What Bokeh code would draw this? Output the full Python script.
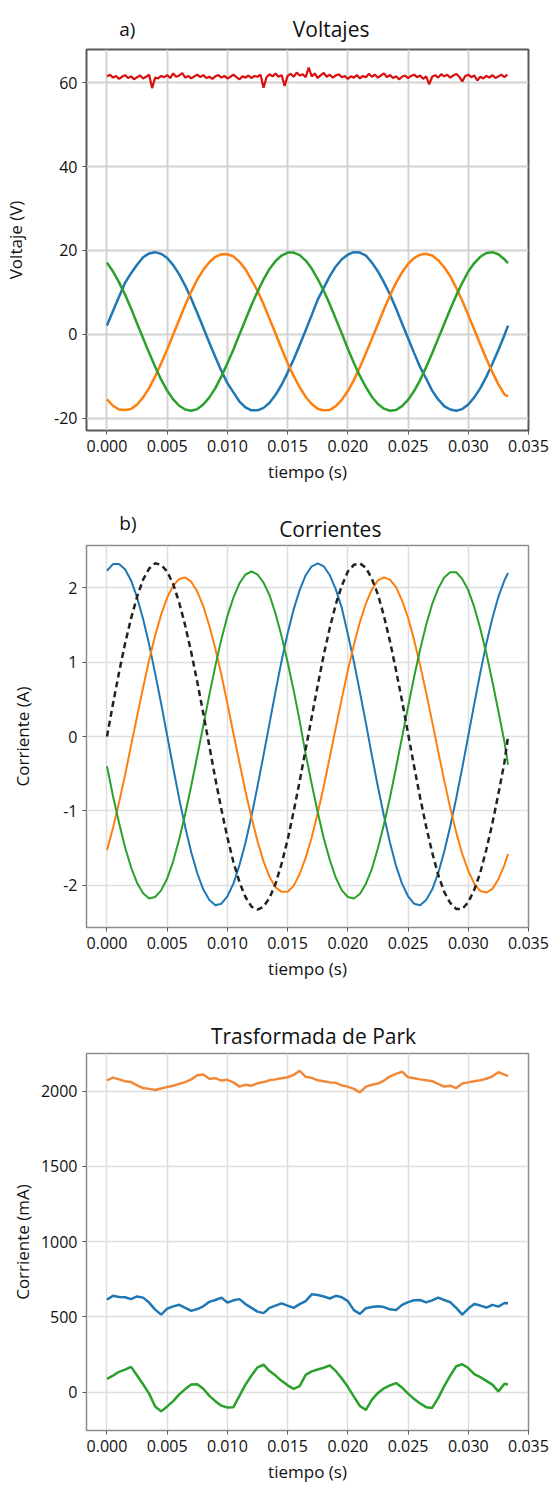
from bokeh.plotting import figure
from bokeh.layouts import column
from bokeh.models import FixedTicker, Label, NumeralTickFormatter, Range1d
from bokeh.embed import file_html
from bokeh.resources import INLINE

FONT = "Open Sans"

# ---------------- data ----------------
# common time grid (s)
t = [round(0.0005 * i, 4) for i in range(67)] + [0.0333]
t_red = [round(0.00025 * i, 5) for i in range(134)]

x_ticks = [0.0, 0.005, 0.010, 0.015, 0.020, 0.025, 0.030, 0.035]

# a) Voltajes (V)
volt_dc = [61.5, 61.9, 61.2, 61.6, 60.9, 61.4, 61.8, 61.1, 61.5, 60.8,
           61.3, 61.7, 61.0, 61.4, 61.9, 58.7, 61.2, 61.0, 61.6, 61.3,
           61.8, 61.1, 62.2, 61.4, 61.7, 62.3, 61.2, 61.6, 61.0, 61.5,
           61.9, 61.3, 61.8, 61.1, 61.4, 60.9, 61.5, 61.8, 61.2, 61.6,
           61.0, 61.4, 61.9, 61.3, 60.8, 61.5, 61.2, 61.7, 61.1, 61.6,
           61.4, 61.9, 58.8, 61.3, 62.0, 61.5, 62.2, 61.4, 61.8, 59.2,
           61.6, 62.1, 61.4, 62.4, 61.7, 62.0, 61.3, 63.6, 61.5, 62.2,
           61.1, 61.8, 62.3, 61.4, 61.9, 61.2, 61.7, 62.0, 61.3, 61.6,
           60.9, 61.5, 61.2, 61.8, 61.0, 61.6, 61.3, 62.1, 61.4, 61.9,
           61.2, 61.7, 62.2, 61.3, 61.8, 61.1, 61.5, 60.8, 61.4, 61.7,
           61.1, 61.6, 61.9, 61.3, 61.7, 60.9, 61.5, 59.6, 61.4, 61.8,
           61.2, 62.0, 61.5, 61.9, 61.2, 61.7, 62.1, 61.4, 60.3, 61.6,
           61.9, 61.3, 61.7, 60.5, 61.4, 61.0, 61.6, 61.2, 61.8, 61.1,
           61.5, 61.9, 61.3, 61.9]
volt_a = [2.1, 5.6, 9.0, 12.3, 14.6, 16.6, 18.4, 19.3, 19.6, 19.2,
          18.2, 16.5, 14.3, 11.6, 8.5, 5.1, 1.6, -2.0, -5.4, -8.7,
          -11.6, -13.8, -16.0, -17.4, -18.1, -18.1, -17.5, -16.3, -14.4, -12.0,
          -9.1, -6.0, -2.5, 1.0, 4.6, 8.3, 11.1, 13.9, 16.2, 17.9,
          19.0, 19.6, 19.5, 18.8, 17.1, 15.0, 12.4, 9.5, 6.2, 2.6,
          -0.9, -4.4, -7.8, -10.5, -13.4, -15.5, -17.1, -17.9, -18.2, -17.8,
          -16.7, -15.0, -12.8, -10.1, -7.0, -3.7, -0.2, 2.1]
volt_b = [-15.5, -17.0, -17.9, -18.0, -17.8, -16.7, -15.0, -12.8, -10.0, -6.9,
          -3.6, 0.0, 3.5, 7.0, 10.2, 13.1, 15.4, 17.2, 18.5, 19.1,
          19.1, 18.6, 17.3, 15.5, 13.0, 10.4, 7.2, 3.7, 0.2, -3.4,
          -6.8, -9.9, -12.6, -14.9, -16.6, -17.7, -18.1, -18.0, -17.1, -15.6,
          -13.5, -10.9, -7.8, -4.5, -1.0, 2.5, 6.0, 9.3, 12.3, 14.8,
          16.8, 18.2, 19.0, 19.2, 18.8, 17.7, 16.0, 13.9, 11.1, 8.0,
          4.6, 1.1, -2.4, -5.8, -9.0, -11.9, -14.3, -14.8]
volt_c = [17.1, 15.0, 12.4, 9.5, 6.2, 2.6, -0.9, -4.4, -7.7, -10.8,
          -13.4, -15.5, -17.0, -17.9, -18.2, -17.8, -16.7, -15.0, -12.8, -10.0,
          -6.9, -3.6, 0.0, 3.5, 7.0, 10.2, 13.1, 15.6, 17.5, 18.8,
          19.5, 19.5, 18.9, 17.6, 15.7, 13.2, 10.4, 7.2, 3.7, 0.2,
          -3.4, -6.8, -9.9, -12.6, -14.9, -16.6, -17.7, -18.2, -18.0, -17.1,
          -15.6, -13.5, -10.9, -7.8, -4.5, -1.0, 2.5, 6.0, 9.3, 12.3,
          15.0, 17.0, 18.5, 19.4, 19.6, 19.1, 17.9, 17.0]
volt_yticks = [-20, 0, 20, 40, 60]

# b) Corrientes (A)
curr_ref = [0.0, 0.44, 0.86, 1.25, 1.59, 1.88, 2.11, 2.26, 2.33, 2.31,
            2.22, 2.05, 1.80, 1.49, 1.13, 0.73, 0.31, -0.13, -0.57, -0.98,
            -1.36, -1.69, -1.96, -2.16, -2.29, -2.33, -2.29, -2.17, -1.98, -1.71,
            -1.39, -1.01, -0.60, -0.17, 0.26, 0.69, 1.10, 1.46, 1.78, 2.03,
            2.22, 2.31, 2.33, 2.27, 2.12, 1.91, 1.62, 1.28, 0.89, 0.48,
            0.04, -0.40, -0.82, -1.21, -1.56, -1.86, -2.09, -2.24, -2.32, -2.32,
            -2.23, -2.06, -1.83, -1.52, -1.17, -0.77, -0.35, 0.0]
curr_a = [2.23, 2.32, 2.32, 2.25, 2.10, 1.87, 1.58, 1.24, 0.85, 0.44,
          0.01, -0.42, -0.84, -1.22, -1.56, -1.84, -2.06, -2.20, -2.27, -2.25,
          -2.15, -1.98, -1.73, -1.43, -1.07, -0.67, -0.25, 0.18, 0.61, 1.02,
          1.39, 1.71, 1.97, 2.17, 2.29, 2.33, 2.29, 2.17, 1.98, 1.73,
          1.38, 1.01, 0.60, 0.18, -0.26, -0.68, -1.07, -1.43, -1.74, -1.98,
          -2.15, -2.25, -2.27, -2.20, -2.06, -1.84, -1.55, -1.21, -0.83, -0.42,
          0.01, 0.44, 0.86, 1.25, 1.59, 1.88, 2.10, 2.20]
curr_b = [-1.53, -1.23, -0.89, -0.52, -0.12, 0.27, 0.66, 1.03, 1.36, 1.64,
          1.87, 2.03, 2.12, 2.14, 2.08, 1.95, 1.75, 1.49, 1.18, 0.83,
          0.44, 0.04, -0.35, -0.74, -1.09, -1.41, -1.68, -1.89, -2.03, -2.09,
          -2.09, -2.01, -1.85, -1.63, -1.36, -1.03, -0.67, -0.28, 0.12, 0.51,
          0.89, 1.23, 1.54, 1.79, 1.98, 2.10, 2.14, 2.11, 2.01, 1.83,
          1.60, 1.30, 0.96, 0.59, 0.20, -0.20, -0.59, -0.96, -1.29, -1.58,
          -1.81, -1.98, -2.08, -2.10, -2.05, -1.92, -1.73, -1.58]
curr_c = [-0.40, -0.80, -1.16, -1.49, -1.76, -1.97, -2.11, -2.18, -2.16, -2.07,
          -1.91, -1.68, -1.38, -1.04, -0.66, -0.26, 0.15, 0.56, 0.95, 1.31,
          1.62, 1.87, 2.06, 2.18, 2.22, 2.18, 2.07, 1.90, 1.65, 1.35,
          1.00, 0.62, 0.21, -0.24, -0.64, -1.02, -1.37, -1.66, -1.90, -2.07,
          -2.16, -2.18, -2.12, -1.98, -1.78, -1.50, -1.18, -0.82, -0.42, -0.01,
          0.40, 0.80, 1.17, 1.50, 1.78, 1.99, 2.14, 2.21, 2.21, 2.12,
          1.97, 1.74, 1.45, 1.12, 0.74, 0.34, -0.07, -0.38]
curr_yticks = [-2, -1, 0, 1, 2]

# c) Trasformada de Park (mA)
park_top = [2072, 2090, 2078, 2066, 2060, 2038, 2020, 2015, 2008, 2018,
            2028, 2036, 2048, 2060, 2078, 2105, 2110, 2082, 2086, 2070,
            2075, 2058, 2030, 2042, 2036, 2052, 2060, 2072, 2078, 2085,
            2092, 2108, 2135, 2095, 2088, 2072, 2066, 2058, 2055, 2038,
            2030, 2015, 1992, 2030, 2042, 2050, 2070, 2098, 2115, 2130,
            2092, 2085, 2078, 2072, 2066, 2048, 2030, 2036, 2020, 2050,
            2058, 2066, 2072, 2082, 2098, 2126, 2110, 2100]
park_mid = [615, 640, 632, 630, 618, 636, 628, 595, 548, 515,
            555, 570, 580, 560, 540, 552, 570, 600, 612, 628,
            595, 610, 618, 585, 560, 535, 525, 560, 575, 590,
            575, 560, 585, 605, 650, 645, 635, 622, 640, 630,
            605, 545, 520, 558, 565, 570, 565, 550, 545, 580,
            598, 610, 612, 596, 610, 628, 612, 598, 560, 515,
            555, 585, 575, 562, 580, 568, 592, 590]
park_low = [88, 110, 135, 150, 168, 110, 52, -10, -95, -128,
            -95, -60, -15, 20, 50, 52, 22, -25, -60, -90,
            -102, -100, -25, 50, 110, 165, 182, 140, 110, 75,
            45, 22, 40, 115, 138, 150, 162, 178, 140, 90,
            35, -30, -92, -118, -50, -5, 25, 45, 60, 30,
            -10, -45, -75, -100, -105, -40, 40, 110, 172, 185,
            160, 120, 100, 75, 50, 5, 55, 50]
park_yticks = [0, 500, 1000, 1500, 2000]

BLUE, ORANGE, GREEN, RED = "#1f77b4", "#ff7f0e", "#2ca02c", "#d8100f"
TEXT_COL = "#111111"


def header(height, items):
    """A strip above a panel that carries its letter and its title."""
    h = figure(width=553, height=height, output_backend="svg", toolbar_location=None,
               title=None, x_range=Range1d(0, 553), y_range=Range1d(0, height),
               x_axis_location=None, y_axis_location=None, min_border=0,
               outline_line_color=None)
    h.grid.visible = False
    for text, x, y, size, align in items:
        h.add_layout(Label(x=x, y=y, text=text, text_align=align,
                           text_baseline="alphabetic", text_font=FONT,
                           text_font_size=size, text_color=TEXT_COL))
    return h


def make(ylabel, yr, yticks, height, mb, frame_col, frame_w, grid_col, grid_w,
         ylab_standoff):
    p = figure(width=553, height=height, output_backend="svg", toolbar_location=None,
               x_range=Range1d(-0.0017, 0.035), y_range=Range1d(*yr),
               min_border_left=mb[0], min_border_right=mb[1],
               min_border_top=mb[2], min_border_bottom=mb[3])
    p.xaxis.ticker = FixedTicker(ticks=x_ticks)
    p.yaxis.ticker = FixedTicker(ticks=yticks)
    p.xaxis.formatter = NumeralTickFormatter(format="0.000")
    p.yaxis.formatter = NumeralTickFormatter(format="0")
    p.xaxis.axis_label = "tiempo (s)"
    p.yaxis.axis_label = ylabel
    for ax in (p.xaxis[0], p.yaxis[0]):
        ax.axis_line_color = None
        ax.major_tick_line_color = "#555555"
        ax.major_tick_out = 4
        ax.major_tick_in = 0
        ax.minor_tick_line_color = None
        ax.major_label_text_font = FONT
        ax.major_label_text_font_size = "16px"
        ax.major_label_text_color = TEXT_COL
        ax.major_label_standoff = 5
        ax.axis_label_text_font = FONT
        ax.axis_label_text_font_size = "17px"
        ax.axis_label_text_font_style = "normal"
        ax.axis_label_text_color = TEXT_COL
    p.xaxis.axis_label_standoff = 5
    p.yaxis.axis_label_standoff = ylab_standoff
    p.outline_line_color = frame_col
    p.outline_line_width = frame_w
    p.grid.grid_line_color = grid_col
    p.grid.grid_line_width = grid_w
    return p


# a) Voltajes
ha = header(44, [("a)", 41, 16, "19px", "left"), ("Voltajes", 306, 16, "21px", "center")])
pa = make("Voltaje (V)", (-22.9, 67.9), volt_yticks, 451,
          (86, 25, 5, 65), "#5a5a5a", 2, "#d2d2d2", 2, 24)
pa.line(t_red, volt_dc, color=RED, line_width=2.2)
pa.line(t, volt_a, color=BLUE, line_width=2.5)
pa.line(t, volt_b, color=ORANGE, line_width=2.5)
pa.line(t, volt_c, color=GREEN, line_width=2.5)

# b) Corrientes
hb = header(49, [("b)", 41, 22, "19px", "left"), ("Corrientes", 305, 16, "21px", "center")])
pb = make("Corriente (A)", (-2.57, 2.57), curr_yticks, 456,
          (81, 22, 1, 73), "#8c8c8c", 1.5, "#dedede", 1.5, 26)
pb.line(t, curr_a, color=BLUE, line_width=2)
pb.line(t, curr_b, color=ORANGE, line_width=2)
pb.line(t, curr_c, color=GREEN, line_width=2)
pb.line(t, curr_ref, color="#222222", line_width=2.5, line_dash="6 4")

# c) Trasformada de Park
hc = header(51, [("Trasformada de Park", 284, 16, "21px", "center")])
pc = make("Corriente (mA)", (-255, 2250), park_yticks, 434,
          (81, 22, 2, 52), "#8c8c8c", 1.5, "#dedede", 1.5, 4)
pc.line(t, park_top, color="#f0893a", line_width=2.5)
pc.line(t, park_mid, color=BLUE, line_width=2.5)
pc.line(t, park_low, color=GREEN, line_width=2.5)

layout = column(ha, pa, hb, pb, hc, pc)
open("out.html", "w").write(file_html(layout, INLINE))
